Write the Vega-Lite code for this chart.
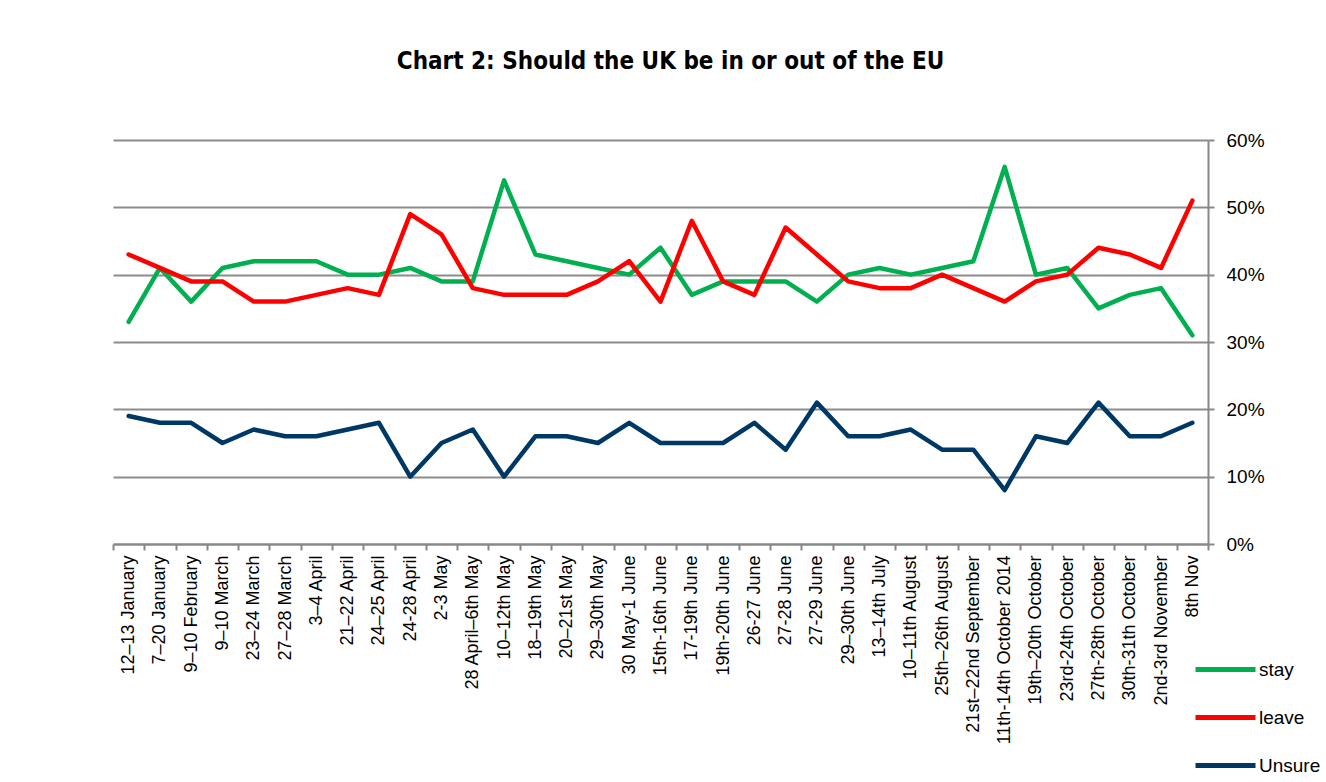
{
  "$schema": "https://vega.github.io/schema/vega-lite/v6.json",
  "autosize": {"type": "none"},
  "width": 1095,
  "height": 404,
  "padding": {"left": 113, "top": 140, "right": 118, "bottom": 238},
  "background": "white",
  "title": {
    "text": "Chart 2: Should the UK be in or out of the EU",
    "font": "DejaVu Sans Condensed, sans-serif",
    "fontSize": 24,
    "fontWeight": "bold",
    "color": "#000000",
    "anchor": "middle",
    "dx": 10,
    "offset": 57
  },
  "datasets": {
    "polls": [
      {"date": "12–13 January", "stay": 0.33, "leave": 0.43, "Unsure": 0.19},
      {"date": "7–20 January", "stay": 0.41, "leave": 0.41, "Unsure": 0.18},
      {"date": "9–10 February", "stay": 0.36, "leave": 0.39, "Unsure": 0.18},
      {"date": "9–10 March", "stay": 0.41, "leave": 0.39, "Unsure": 0.15},
      {"date": "23–24 March", "stay": 0.42, "leave": 0.36, "Unsure": 0.17},
      {"date": "27–28 March", "stay": 0.42, "leave": 0.36, "Unsure": 0.16},
      {"date": "3–4 April", "stay": 0.42, "leave": 0.37, "Unsure": 0.16},
      {"date": "21–22 April", "stay": 0.40, "leave": 0.38, "Unsure": 0.17},
      {"date": "24–25 April", "stay": 0.40, "leave": 0.37, "Unsure": 0.18},
      {"date": "24-28 April", "stay": 0.41, "leave": 0.49, "Unsure": 0.10},
      {"date": "2-3 May", "stay": 0.39, "leave": 0.46, "Unsure": 0.15},
      {"date": "28 April–6th May", "stay": 0.39, "leave": 0.38, "Unsure": 0.17},
      {"date": "10–12th May", "stay": 0.54, "leave": 0.37, "Unsure": 0.10},
      {"date": "18–19th May", "stay": 0.43, "leave": 0.37, "Unsure": 0.16},
      {"date": "20–21st May", "stay": 0.42, "leave": 0.37, "Unsure": 0.16},
      {"date": "29–30th May", "stay": 0.41, "leave": 0.39, "Unsure": 0.15},
      {"date": "30 May-1 June", "stay": 0.40, "leave": 0.42, "Unsure": 0.18},
      {"date": "15th-16th June", "stay": 0.44, "leave": 0.36, "Unsure": 0.15},
      {"date": "17-19th June", "stay": 0.37, "leave": 0.48, "Unsure": 0.15},
      {"date": "19th-20th June", "stay": 0.39, "leave": 0.39, "Unsure": 0.15},
      {"date": "26-27 June", "stay": 0.39, "leave": 0.37, "Unsure": 0.18},
      {"date": "27-28 June", "stay": 0.39, "leave": 0.47, "Unsure": 0.14},
      {"date": "27-29 June", "stay": 0.36, "leave": 0.43, "Unsure": 0.21},
      {"date": "29–30th June", "stay": 0.40, "leave": 0.39, "Unsure": 0.16},
      {"date": "13–14th July", "stay": 0.41, "leave": 0.38, "Unsure": 0.16},
      {"date": "10–11th August", "stay": 0.40, "leave": 0.38, "Unsure": 0.17},
      {"date": "25th–26th August", "stay": 0.41, "leave": 0.40, "Unsure": 0.14},
      {"date": "21st–22nd September", "stay": 0.42, "leave": 0.38, "Unsure": 0.14},
      {"date": "11th-14th October 2014", "stay": 0.56, "leave": 0.36, "Unsure": 0.08},
      {"date": "19th–20th October", "stay": 0.40, "leave": 0.39, "Unsure": 0.16},
      {"date": "23rd-24th October", "stay": 0.41, "leave": 0.40, "Unsure": 0.15},
      {"date": "27th-28th October", "stay": 0.35, "leave": 0.44, "Unsure": 0.21},
      {"date": "30th-31th October", "stay": 0.37, "leave": 0.43, "Unsure": 0.16},
      {"date": "2nd-3rd November", "stay": 0.38, "leave": 0.41, "Unsure": 0.16},
      {"date": "8th Nov", "stay": 0.31, "leave": 0.51, "Unsure": 0.18}
    ]
  },
  "data": {"name": "polls"},
  "transform": [
    {"fold": ["stay", "leave", "Unsure"], "as": ["series", "value"]}
  ],
  "mark": {"type": "line", "strokeWidth": 4.5, "strokeCap": "round", "strokeJoin": "round"},
  "encoding": {
    "x": {
      "field": "date",
      "type": "nominal",
      "sort": null,
      "bandPosition": 0.5,
      "scale": {"type": "band", "paddingInner": 0, "paddingOuter": 0},
      "axis": {
        "title": null,
        "labelAngle": -90,
        "labelAlign": "right",
        "labelBaseline": "middle",
        "labelFont": "Liberation Sans, Arial, sans-serif",
        "labelFontSize": 18,
        "labelColor": "#000000",
        "labelPadding": 5,
        "labelOverlap": false,
        "labelLimit": 300,
        "tickBand": "extent",
        "tickSize": 6,
        "tickColor": "#888888",
        "tickWidth": 2,
        "domainColor": "#888888",
        "domainWidth": 2,
        "grid": false
      }
    },
    "y": {
      "field": "value",
      "type": "quantitative",
      "scale": {"domain": [0, 0.6], "nice": false, "zero": true},
      "axis": {
        "orient": "right",
        "title": null,
        "format": ".0%",
        "values": [0, 0.1, 0.2, 0.3, 0.4, 0.5, 0.6],
        "labelFont": "Liberation Sans, Arial, sans-serif",
        "labelFontSize": 19,
        "labelColor": "#000000",
        "labelPadding": 12,
        "tickSize": 6,
        "tickColor": "#888888",
        "tickWidth": 2,
        "domainColor": "#888888",
        "domainWidth": 2,
        "grid": true,
        "gridColor": "#8c8c8c",
        "gridWidth": 2
      }
    },
    "color": {
      "field": "series",
      "type": "nominal",
      "scale": {"domain": ["stay", "leave", "Unsure"], "range": ["#00B050", "#FF0000", "#003865"]},
      "legend": {
        "title": null,
        "orient": "none",
        "legendX": 1080,
        "legendY": 497,
        "symbolType": "stroke",
        "symbolSize": 3600,
        "symbolStrokeWidth": 5,
        "labelFont": "Liberation Sans, Arial, sans-serif",
        "labelFontSize": 19,
        "labelColor": "#000000",
        "labelOffset": 1,
        "rowPadding": 5,
        "padding": 0
      }
    }
  },
  "config": {
    "view": {"stroke": null}
  }
}
